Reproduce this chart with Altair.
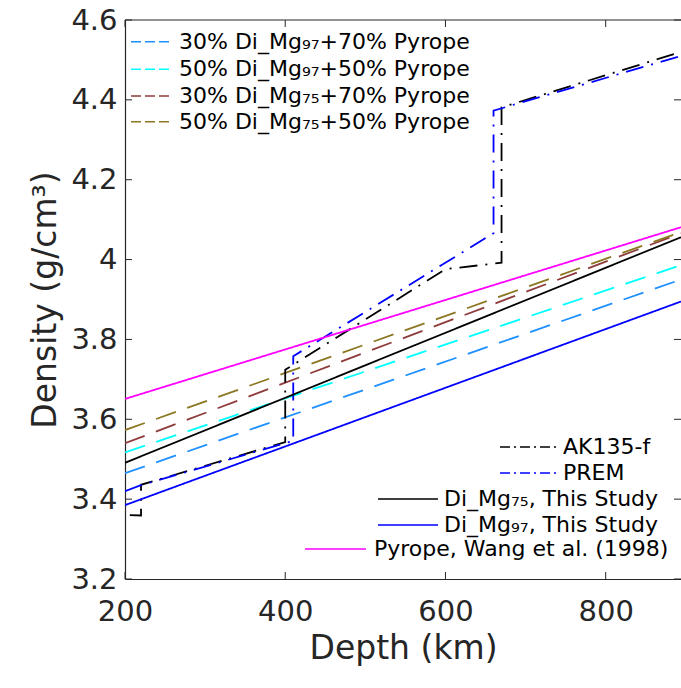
import altair as alt
import pandas as pd

# ---------------- data ----------------
line_depth = [200, 894]
mix30_mg97 = [3.465, 3.950]
mix50_mg97 = [3.517, 3.986]
mix30_mg75 = [3.540, 4.066]
mix50_mg75 = [3.573, 4.069]
di_mg75 = [3.491, 4.056]
di_mg97 = [3.385, 3.895]
pyrope = [3.651, 4.081]

ak_depth = [206, 220, 220, 400, 400, 600, 670, 670, 894]
ak_density = [3.360, 3.359, 3.436, 3.543, 3.724, 3.976, 3.992, 4.381, 4.520]
prem_depth = [200, 220, 410, 410, 660, 660, 894]
prem_density = [3.420, 3.435, 3.546, 3.758, 4.066, 4.373, 4.510]

x_ticks = [200, 400, 600, 800]
y_ticks = [3.2, 3.4, 3.6, 3.8, 4.0, 4.2, 4.4, 4.6]

names = [
    "30% Di_Mg₉₇+70% Pyrope",
    "50% Di_Mg₉₇+50% Pyrope",
    "30% Di_Mg₇₅+70% Pyrope",
    "50% Di_Mg₇₅+50% Pyrope",
    "AK135-f",
    "PREM",
    "Di_Mg₇₅, This Study",
    "Di_Mg₉₇, This Study",
    "Pyrope, Wang et al. (1998)",
]
colors = ["#1E90FF", "#00FFFF", "#8E3B3B", "#8C7722", "#000000", "#0000FF",
          "#000000", "#0000FF", "#FF00FF"]
DASH = [21, 12]
DASHDOT = [18, 8, 2, 8]
SOLID = [1, 0]
dashes = [DASH, DASH, DASH, DASH, DASHDOT, DASHDOT, SOLID, SOLID, SOLID]

series_values = {
    names[0]: (line_depth, mix30_mg97),
    names[1]: (line_depth, mix50_mg97),
    names[2]: (line_depth, mix30_mg75),
    names[3]: (line_depth, mix50_mg75),
    names[4]: (ak_depth, ak_density),
    names[5]: (prem_depth, prem_density),
    names[6]: (line_depth, di_mg75),
    names[7]: (line_depth, di_mg97),
    names[8]: (line_depth, pyrope),
}
rows = []
for name, (dep, den) in series_values.items():
    for i, (d, v) in enumerate(zip(dep, den)):
        rows.append({"series": name, "depth": d, "density": v, "idx": i})
df = pd.DataFrame(rows)

# ---------------- layout ----------------
W, H = 556, 559
FONT = "DejaVu Sans"
AX = "#262626"
TL = 7
LEGFS = 22

xscale = alt.Scale(domain=[200, 894], nice=False, zero=False)
yscale = alt.Scale(domain=[3.2, 4.6], nice=False, zero=False)
xaxis = alt.Axis(values=x_ticks, title="Depth (km)", ticks=False, grid=False,
                 labelFlush=False, labelPadding=18, titlePadding=6,
                 domainColor=AX, labelColor=AX, titleColor=AX)
yaxis = alt.Axis(values=y_ticks, format=".2~f", title="Density (g/cm³)",
                 ticks=False, grid=False, labelFlush=False, labelPadding=8,
                 titlePadding=8, domainColor=AX, labelColor=AX, titleColor=AX)

lines = alt.Chart(df).mark_line(strokeWidth=1.8, clip=True).encode(
    x=alt.X("depth:Q", scale=xscale, axis=xaxis),
    y=alt.Y("density:Q", scale=yscale, axis=yaxis),
    color=alt.Color("series:N", scale=alt.Scale(domain=names, range=colors), legend=None),
    strokeDash=alt.StrokeDash("series:N", scale=alt.Scale(domain=names, range=dashes), legend=None),
    order=alt.Order("idx:Q"),
    detail="series:N",
)

xt = pd.DataFrame({"v": x_ticks})
yt = pd.DataFrame({"v": y_ticks})
tick_layers = [
    alt.Chart(yt).mark_rule(color=AX, strokeWidth=1).encode(
        y=alt.Y("v:Q", scale=yscale, axis=yaxis), x=alt.value(0), x2=alt.value(TL)),
    alt.Chart(yt).mark_rule(color=AX, strokeWidth=1).encode(
        y=alt.Y("v:Q", scale=yscale, axis=yaxis), x=alt.value(W - TL), x2=alt.value(W)),
    alt.Chart(xt).mark_rule(color=AX, strokeWidth=1).encode(
        x=alt.X("v:Q", scale=xscale, axis=xaxis), y=alt.value(H), y2=alt.value(H - TL)),
    alt.Chart(xt).mark_rule(color=AX, strokeWidth=1).encode(
        x=alt.X("v:Q", scale=xscale, axis=xaxis), y=alt.value(0), y2=alt.value(TL)),
    alt.Chart(xt.head(1)).mark_rule(color=AX, strokeWidth=1.2).encode(
        x=alt.value(0), x2=alt.value(W), y=alt.value(0)),
]

# ---------------- legends (drawn as text + line samples) ----------------
one = pd.DataFrame({"k": [0]})
leg_layers = []
# top-left box
leg1_y = [21.7, 49.3, 76.0, 101.7]
for i in range(4):
    leg_layers.append(alt.Chart(one).mark_rule(
        color=colors[i], strokeDash=[10, 4], strokeWidth=1.6).encode(
        x=alt.value(6), x2=alt.value(45), y=alt.value(leg1_y[i])))
    leg_layers.append(alt.Chart(one).mark_text(
        text=names[i], align="left", baseline="middle", font=FONT, fontSize=LEGFS,
        color="#000000").encode(x=alt.value(54), y=alt.value(leg1_y[i])))
# bottom-right boxes
leg2 = [  # (series index, line start, line end, text start, y)
    (4, 375, 431, 438, 427),
    (5, 375, 431, 438, 453),
    (6, 253, 313, 319, 479),
    (7, 253, 313, 319, 505),
    (8, 180, 241, 249, 529),
]
for si, x0, x1, tx, yy in leg2:
    dash = [10, 4, 2, 4] if dashes[si] == DASHDOT else SOLID
    leg_layers.append(alt.Chart(one).mark_rule(
        color=colors[si], strokeDash=dash, strokeWidth=1.6).encode(
        x=alt.value(x0), x2=alt.value(x1), y=alt.value(yy)))
    leg_layers.append(alt.Chart(one).mark_text(
        text=names[si], align="left", baseline="middle", font=FONT, fontSize=LEGFS,
        color="#000000").encode(x=alt.value(tx), y=alt.value(yy)))

chart = alt.layer(lines, *tick_layers, *leg_layers).properties(
    width=W, height=H,
    autosize=alt.AutoSizeParams(type="none"),
    padding={"left": 125, "top": 20, "right": 0, "bottom": 109},
).configure_view(stroke=None).configure_axis(
    labelFont=FONT, titleFont=FONT, labelFontSize=29, titleFontSize=33,
    titleFontWeight="normal", domainWidth=1.2,
)

chart.save("out.html", embed_options={"renderer": "svg", "actions": False})
